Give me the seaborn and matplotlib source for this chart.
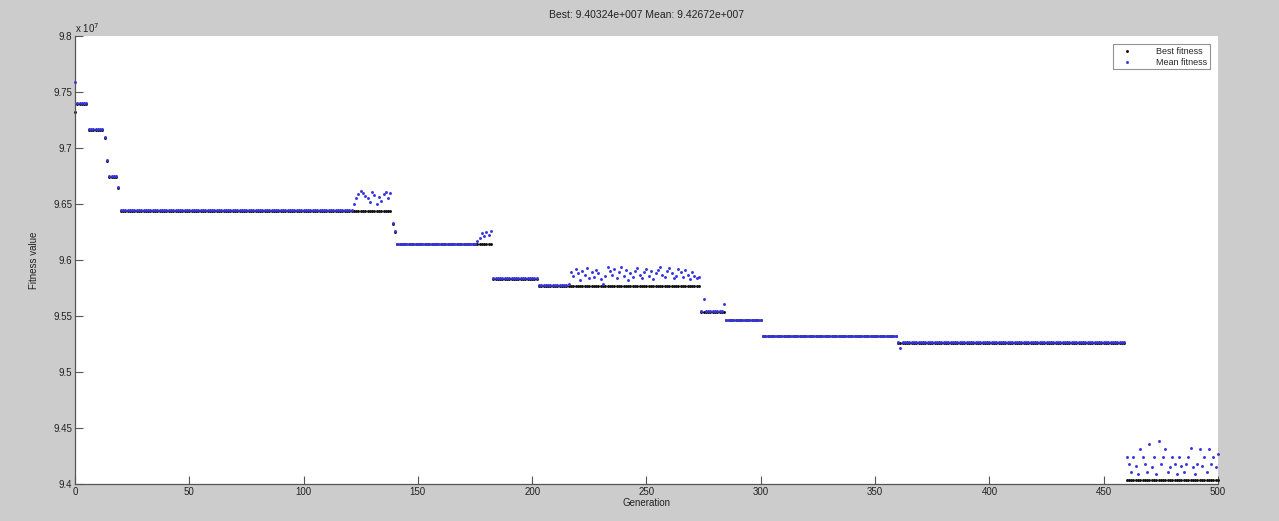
import numpy as np
import pandas as pd
import matplotlib
matplotlib.use("Agg")
import matplotlib.pyplot as plt
import seaborn as sns

# ---- data (fitness values in units of 1e7) ----
n_generations = 501

# plateaus of the best fitness: first gen, last gen, value
best_start = [0, 1, 6, 13, 14, 15, 19, 20, 139, 140, 141, 183, 203, 274, 285, 301, 360, 460]
best_end = [0, 5, 12, 13, 14, 18, 19, 138, 139, 140, 182, 202, 273, 284, 300, 359, 459, 500]
best_value = [9.732, 9.739, 9.716, 9.709, 9.688, 9.674, 9.664, 9.6440, 9.632, 9.625,
              9.6140, 9.5832, 9.5772, 9.5540, 9.5460, 9.5320, 9.5263, 9.40324]

# plateaus of the mean fitness
mean_start = [0, 1, 6, 13, 14, 15, 19, 20, 139, 140, 141, 183, 203, 274, 285, 301, 360]
mean_end = [0, 5, 12, 13, 14, 18, 19, 138, 139, 140, 182, 202, 273, 284, 300, 359, 459]
mean_value = [9.759, 9.740, 9.717, 9.710, 9.689, 9.675, 9.665, 9.6447, 9.633, 9.626,
              9.6147, 9.5837, 9.5780, 9.5545, 9.5463, 9.5323, 9.5266]

# generations where the mean wanders off its plateau
mean_gens_a = 121
mean_vals_a = [9.6448, 9.650, 9.655, 9.659, 9.662, 9.660, 9.657, 9.655, 9.652, 9.661,
               9.658, 9.650, 9.656, 9.653, 9.659, 9.661, 9.655, 9.660]
mean_gens_b = 176
mean_vals_b = [9.617, 9.620, 9.624, 9.621, 9.625, 9.622, 9.626]
mean_gens_c = 216
mean_vals_c = [9.5785, 9.589, 9.586, 9.592, 9.588, 9.582, 9.590, 9.587, 9.593, 9.584,
               9.589, 9.585, 9.591, 9.588, 9.583, 9.579, 9.586, 9.594, 9.590, 9.587,
               9.592, 9.584, 9.589, 9.594, 9.586, 9.591, 9.582, 9.588, 9.585, 9.590,
               9.593, 9.587, 9.584, 9.589, 9.592, 9.586, 9.590, 9.583, 9.588, 9.591,
               9.594, 9.587, 9.585, 9.590, 9.593, 9.588, 9.584, 9.586, 9.592, 9.589,
               9.585, 9.591, 9.587, 9.583, 9.589, 9.586, 9.584, 9.585]
mean_gens_d = 460
mean_vals_d = [9.424, 9.418, 9.411, 9.424, 9.416, 9.409, 9.431, 9.424, 9.418, 9.411,
               9.436, 9.415, 9.424, 9.409, 9.438, 9.418, 9.424, 9.431, 9.411, 9.415,
               9.424, 9.418, 9.409, 9.424, 9.416, 9.411, 9.418, 9.424, 9.432, 9.415,
               9.409, 9.418, 9.431, 9.416, 9.424, 9.411, 9.431, 9.418, 9.424, 9.415,
               9.42672]
mean_single_gen = [275, 284, 361]
mean_single_val = [9.565, 9.5605, 9.521]

x_ticks = [0, 50, 100, 150, 200, 250, 300, 350, 400, 450, 500]
y_ticks = [9.4, 9.45, 9.5, 9.55, 9.6, 9.65, 9.7, 9.75, 9.8]

# ---- assemble per-generation series ----
gen = np.arange(n_generations)
best = np.empty(n_generations)
for s, e, v in zip(best_start, best_end, best_value):
    best[s:e + 1] = v
mean = np.empty(n_generations)
for s, e, v in zip(mean_start, mean_end, mean_value):
    mean[s:e + 1] = v
for g0, vals in [(mean_gens_a, mean_vals_a), (mean_gens_b, mean_vals_b),
                 (mean_gens_c, mean_vals_c), (mean_gens_d, mean_vals_d)]:
    mean[g0:g0 + len(vals)] = vals
for g, v in zip(mean_single_gen, mean_single_val):
    mean[g] = v

df = pd.DataFrame({"Generation": gen, "best": best, "mean": mean})

# ---- figure ----
sns.set_theme(style="white")
plt.rcParams["font.family"] = ["Liberation Sans", "DejaVu Sans"]

fig = plt.figure(figsize=(12.79, 5.21), dpi=100, facecolor="#cccccc")
ax = fig.add_axes([0.0586, 0.071, 0.8937, 0.860])
ax.set_facecolor("white")

sns.scatterplot(data=df, x="Generation", y="best", ax=ax, color="#111111",
                s=4.5, linewidth=0, label="Best fitness", zorder=2, clip_on=False)
sns.scatterplot(data=df, x="Generation", y="mean", ax=ax, color="#3535dd",
                s=4.5, linewidth=0, label="Mean fitness", zorder=3, clip_on=False)

ax.set_xlim(0, 500)
ax.set_ylim(9.4, 9.8)
ax.set_xticks(x_ticks)
ax.set_yticks(y_ticks)
ax.set_xticklabels([f"{t:g}" for t in x_ticks])
ax.set_yticklabels([f"{t:g}" for t in y_ticks])
ax.tick_params(direction="in", length=6, width=0.8, color="#555555",
               labelsize=7, labelcolor="#222222", pad=2, left=True, bottom=True)

for side in ["top", "right"]:
    ax.spines[side].set_visible(False)
for side in ["left", "bottom"]:
    ax.spines[side].set_color("#555555")
    ax.spines[side].set_linewidth(0.9)

ax.set_xlabel("Generation", fontsize=7, color="#222222", labelpad=1)
ax.set_ylabel("Fitness value", fontsize=7, color="#222222", labelpad=10)
ax.set_title("Best: 9.40324e+007 Mean: 9.42672e+007", fontsize=7.5,
             color="#222222", pad=13)
ax.text(0.0, 1.003, r"x 10$^{7}$", transform=ax.transAxes, fontsize=7,
        color="#222222", ha="left", va="bottom")

leg = ax.legend(loc="upper right", bbox_to_anchor=(0.997, 0.992), fontsize=6.5,
                frameon=True, fancybox=False, edgecolor="#777777",
                borderpad=0.3, handletextpad=2.0, handlelength=2.5,
                labelspacing=0.2, markerscale=1.0)
leg.get_frame().set_linewidth(0.8)

fig.savefig("out.png", dpi=100, facecolor=fig.get_facecolor())
